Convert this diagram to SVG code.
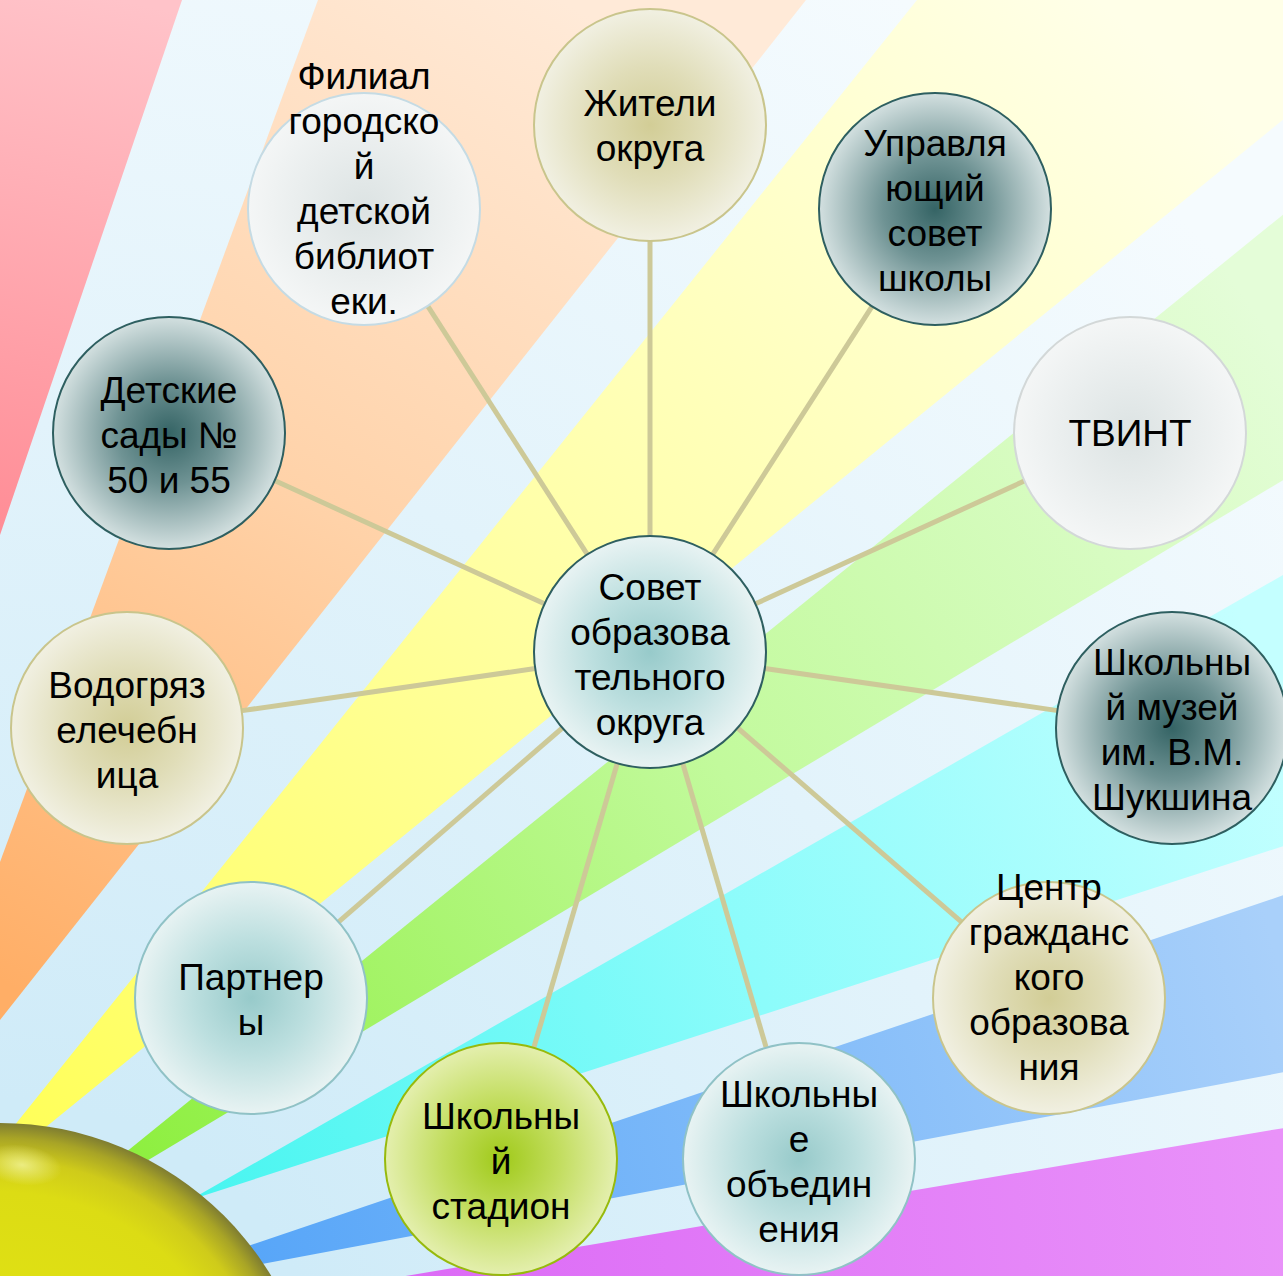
<svg xmlns="http://www.w3.org/2000/svg" width="1283" height="1276" viewBox="0 0 1283 1276">
<defs>
<radialGradient id="bg" gradientUnits="userSpaceOnUse" cx="0" cy="1440" r="1700">
<stop offset="0.2" stop-color="#cfebf8"/>
<stop offset="1" stop-color="#f5fbfe"/>
</radialGradient>
<linearGradient id="gRed" gradientUnits="userSpaceOnUse" x1="0" y1="540" x2="120" y2="0">
<stop offset="0" stop-color="#ff8c95"/><stop offset="1" stop-color="#ffc3c9"/>
</linearGradient>
<linearGradient id="gOrange" gradientUnits="userSpaceOnUse" x1="0" y1="980" x2="560" y2="0">
<stop offset="0" stop-color="#ffae66"/><stop offset="0.5" stop-color="#ffd2a8"/><stop offset="1" stop-color="#ffead8"/>
</linearGradient>
<linearGradient id="gYellow" gradientUnits="userSpaceOnUse" x1="30" y1="1130" x2="1100" y2="0">
<stop offset="0" stop-color="#ffff5a"/><stop offset="0.5" stop-color="#ffffa8"/><stop offset="1" stop-color="#ffffe8"/>
</linearGradient>
<linearGradient id="gGreen" gradientUnits="userSpaceOnUse" x1="140" y1="1160" x2="1283" y2="350">
<stop offset="0" stop-color="#8eef40"/><stop offset="0.5" stop-color="#c2fa9c"/><stop offset="1" stop-color="#e4fdd8"/>
</linearGradient>
<linearGradient id="gCyan" gradientUnits="userSpaceOnUse" x1="200" y1="1195" x2="1283" y2="710">
<stop offset="0" stop-color="#48f5f0"/><stop offset="0.5" stop-color="#8cfcfb"/><stop offset="1" stop-color="#c4ffff"/>
</linearGradient>
<linearGradient id="gBlue" gradientUnits="userSpaceOnUse" x1="255" y1="1255" x2="1283" y2="980">
<stop offset="0" stop-color="#58a6f8"/><stop offset="1" stop-color="#a9d0fa"/>
</linearGradient>
<linearGradient id="gPurple" gradientUnits="userSpaceOnUse" x1="400" y1="1276" x2="1283" y2="1180">
<stop offset="0" stop-color="#dc6af6"/><stop offset="1" stop-color="#e992f9"/>
</linearGradient>
<radialGradient id="gSun" gradientUnits="userSpaceOnUse" cx="0" cy="1440" r="318">
<stop offset="0" stop-color="#e4e614"/>
<stop offset="0.78" stop-color="#dcdc14"/>
<stop offset="0.88" stop-color="#cfcb1a"/>
<stop offset="0.95" stop-color="#a8a426"/>
<stop offset="1" stop-color="#7c7a32"/>
</radialGradient>
<radialGradient id="gSunHi" cx="0.5" cy="0.5" r="0.5">
<stop offset="0" stop-color="#f2f49a" stop-opacity="0.8"/>
<stop offset="1" stop-color="#f2f49a" stop-opacity="0"/>
</radialGradient>
<radialGradient id="nDark" cx="0.5" cy="0.5" r="0.5">
<stop offset="0" stop-color="#356465"/><stop offset="0.45" stop-color="#6f9394"/><stop offset="1" stop-color="#d3e0e0"/>
</radialGradient>
<radialGradient id="nTeal" cx="0.5" cy="0.5" r="0.5">
<stop offset="0" stop-color="#97caca"/><stop offset="0.5" stop-color="#bcdfdf"/><stop offset="1" stop-color="#e8f3f3"/>
</radialGradient>
<radialGradient id="nKhaki" cx="0.5" cy="0.5" r="0.5">
<stop offset="0" stop-color="#d2cd96"/><stop offset="0.5" stop-color="#e0ddb8"/><stop offset="1" stop-color="#f1f0e2"/>
</radialGradient>
<radialGradient id="nGray" cx="0.5" cy="0.5" r="0.5">
<stop offset="0" stop-color="#dce3e3"/><stop offset="1" stop-color="#f4f6f6"/>
</radialGradient>
<radialGradient id="nGreen" cx="0.5" cy="0.5" r="0.5">
<stop offset="0" stop-color="#a0ca1a"/><stop offset="0.5" stop-color="#c2dd5e"/><stop offset="1" stop-color="#e4efae"/>
</radialGradient>
</defs>
<style>
.conn line{stroke:#cdc998;stroke-width:5;stroke-linecap:butt}
.node circle{stroke-width:2}
.dark circle{fill:url(#nDark);stroke:#2e5f60}
.teal circle{fill:url(#nTeal);stroke:#90c2c6}
.khaki circle{fill:url(#nKhaki);stroke:#c9c58c}
.gray circle{fill:url(#nGray);stroke:#d3d8d8}
.green circle{fill:url(#nGreen);stroke:#97ba0c}
.node text{font-family:"Liberation Sans",Arial,sans-serif;font-size:37px;fill:#000;text-anchor:middle}
</style>

<g id="background">
<rect x="0" y="0" width="1283" height="1276" fill="url(#bg)"/>
<polygon points="0,0 182,0 0,535" fill="url(#gRed)"/>
<polygon points="318,0 806,0 0,1020 0,862" fill="url(#gOrange)"/>
<polygon points="917,0 1290,0 1290,114 30,1140 6,1136" fill="url(#gYellow)"/>
<polygon points="1290,209 1290,476 140,1165 120,1157" fill="url(#gGreen)"/>
<polygon points="1290,571 1290,844 190,1200" fill="url(#gCyan)"/>
<polygon points="1290,893 1290,1071 262,1264 248,1246" fill="url(#gBlue)"/>
<polygon points="370,1282 1290,1127 1290,1282" fill="url(#gPurple)"/>
<circle cx="0" cy="1440" r="317" fill="url(#gSun)"/>
<ellipse cx="22" cy="1165" rx="40" ry="20" fill="url(#gSunHi)" transform="rotate(8 22 1165)"/>
</g>

<g id="connectors" class="conn">
<line x1="650" y1="536" x2="650" y2="240"/>
<line x1="712.7" y1="554.4" x2="872.7" y2="305.4"/>
<line x1="755.5" y1="603.8" x2="1024.8" y2="480.8"/>
<line x1="764.8" y1="668.5" x2="1057.8" y2="710.6"/>
<line x1="737.7" y1="728.0" x2="961.4" y2="921.8"/>
<line x1="682.7" y1="763.3" x2="766.1" y2="1047.3"/>
<line x1="617.3" y1="763.3" x2="533.9" y2="1047.3"/>
<line x1="562.3" y1="728.0" x2="338.6" y2="921.8"/>
<line x1="535.2" y1="668.5" x2="242.2" y2="710.6"/>
<line x1="544.5" y1="603.8" x2="275.2" y2="480.8"/>
<line x1="587.3" y1="554.4" x2="427.3" y2="305.4"/>
</g>

<g id="node-center" class="node teal">
<circle cx="650" cy="652" r="116" style="stroke:#2e5f60"/>
<text x="650" y="600">Совет</text>
<text x="650" y="645">образова</text>
<text x="650" y="690">тельного</text>
<text x="650" y="735">округа</text>
</g>

<g id="node-zhiteli" class="node khaki">
<circle cx="650" cy="125" r="116"/>
<text x="650" y="116">Жители</text>
<text x="650" y="161">округа</text>
</g>

<g id="node-upr" class="node dark">
<circle cx="935" cy="209" r="116"/>
<text x="935" y="156">Управля</text>
<text x="935" y="201">ющий</text>
<text x="935" y="246">совет</text>
<text x="935" y="291">школы</text>
</g>

<g id="node-tvint" class="node gray">
<circle cx="1130" cy="433" r="116"/>
<text x="1130" y="446">ТВИНТ</text>
</g>

<g id="node-museum" class="node dark">
<circle cx="1172" cy="728" r="116"/>
<text x="1172" y="675">Школьны</text>
<text x="1172" y="720">й музей</text>
<text x="1172" y="765">им. В.М.</text>
<text x="1172" y="810">Шукшина</text>
</g>

<g id="node-centr" class="node khaki">
<circle cx="1049" cy="998" r="116"/>
<text x="1049" y="900">Центр</text>
<text x="1049" y="945">гражданс</text>
<text x="1049" y="990">кого</text>
<text x="1049" y="1035">образова</text>
<text x="1049" y="1080">ния</text>
</g>

<g id="node-obed" class="node teal">
<circle cx="799" cy="1159" r="116"/>
<text x="799" y="1107">Школьны</text>
<text x="799" y="1152">е</text>
<text x="799" y="1197">объедин</text>
<text x="799" y="1242">ения</text>
</g>

<g id="node-stadion" class="node green">
<circle cx="501" cy="1159" r="116"/>
<text x="501" y="1129">Школьны</text>
<text x="501" y="1174">й</text>
<text x="501" y="1219">стадион</text>
</g>

<g id="node-partnery" class="node teal">
<circle cx="251" cy="998" r="116"/>
<text x="251" y="990">Партнер</text>
<text x="251" y="1035">ы</text>
</g>

<g id="node-vodo" class="node khaki">
<circle cx="127" cy="728" r="116"/>
<text x="127" y="698">Водогряз</text>
<text x="127" y="743">елечебн</text>
<text x="127" y="788">ица</text>
</g>

<g id="node-sady" class="node dark">
<circle cx="169" cy="433" r="116"/>
<text x="169" y="403">Детские</text>
<text x="169" y="448">сады №</text>
<text x="169" y="493">50 и 55</text>
</g>

<g id="node-filial" class="node gray">
<circle cx="364" cy="209" r="116" style="stroke:#c5dbe4"/>
<text x="364" y="89">Филиал</text>
<text x="364" y="134">городско</text>
<text x="364" y="179">й</text>
<text x="364" y="224">детской</text>
<text x="364" y="269">библиот</text>
<text x="364" y="314">еки.</text>
</g>
</svg>
